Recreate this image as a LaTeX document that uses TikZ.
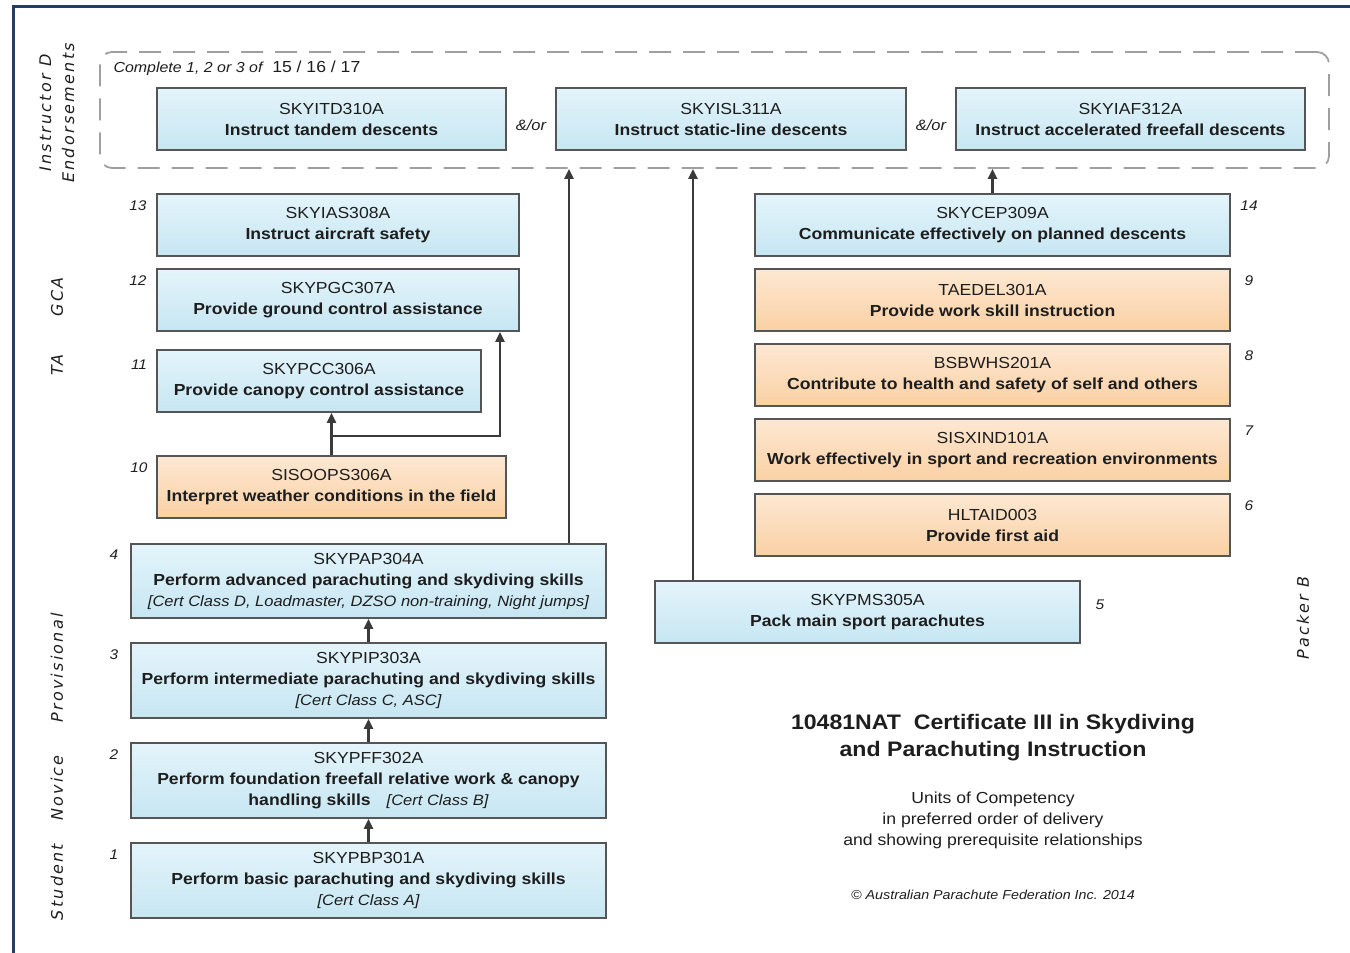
\documentclass[tikz,border=0pt]{standalone}
\usepackage{fontspec}
\setmainfont{Liberation Sans}[FakeStretch=1.1]
\newfontfamily\sidefont{DejaVu Sans}[LetterSpace=14]
\usetikzlibrary{arrows.meta, calc, positioning}

\definecolor{blueT}{HTML}{E4F4FB}
\definecolor{blueB}{HTML}{C6E6F2}
\definecolor{orangeT}{HTML}{FDE8D2}
\definecolor{orangeB}{HTML}{FAD0A4}
\definecolor{boxline}{HTML}{555555}
\definecolor{linegray}{HTML}{3A3A3A}
\definecolor{textdark}{HTML}{1E1E1E}
\definecolor{framecol}{HTML}{25405F}

\newcommand{\certnote}[1]{{\itshape\fontsize{15}{21}\selectfont #1}}

\begin{document}
\begin{tikzpicture}[
	x=1pt, y=-1pt,
	unitbox/.style={draw=boxline, line width=1.8pt, rectangle, align=center, inner sep=0pt, text=textdark, font=\fontsize{16}{21}\selectfont},
	bluebox/.style={unitbox, top color=blueT, bottom color=blueB},
	orangebox/.style={unitbox, top color=orangeT, bottom color=orangeB},
	arrow/.style={-{Triangle[length=10pt, width=9pt]}, line width=2.2pt, draw=linegray},
	num/.style={font=\fontsize{14}{14}\selectfont\itshape, text=textdark},
	side/.style={rotate=90, align=center, text=textdark, font=\sidefont\itshape\fontsize{16}{23}\selectfont},
	andor/.style={font=\fontsize{15}{15}\selectfont\itshape, text=textdark}
	]
	\useasboundingbox (0,0) rectangle (1350,953);
	% Frame
	\draw[framecol, line width=3pt] (1350,6) -- (13,6) -- (13,953);
	
	% Endorsements
	\node[draw=gray!75, line width=1.8pt, dash pattern=on 22pt off 12pt, rounded corners=12pt, minimum width=1229pt, minimum height=116pt, inner sep=0pt] (endorse) at (714.5,110) {};
	\node[anchor=west, text=textdark, font=\fontsize{16}{16}\selectfont] (choose) at (110,68) {{\itshape\fontsize{14.5}{14}\selectfont Complete 1, 2 or 3 of}\ \ 15 / 16 / 17};
	\node[bluebox, minimum width=349pt, minimum height=62pt] (itd) at (331.5,119) {SKYITD310A\\\textbf{Instruct tandem descents}};
	\node[bluebox, minimum width=350pt, minimum height=62pt] (isl) at (731,119) {SKYISL311A\\\textbf{Instruct static-line descents}};
	\node[bluebox, minimum width=349pt, minimum height=62pt] (iaf) at (1130.5,119) {SKYIAF312A\\\textbf{Instruct accelerated freefall descents}};
	\node[andor] (or1) at (531,125) {\&/or};
	\node[andor] (or2) at (931,125) {\&/or};
	
	% Left column
	\node[bluebox, minimum width=362pt, minimum height=62pt] (ias) at (338,225) {SKYIAS308A\\\textbf{Instruct aircraft safety}};
	\node[bluebox, minimum width=362pt, minimum height=62pt] (pgc) at (338,300) {SKYPGC307A\\\textbf{Provide ground control assistance}};
	\node[bluebox, minimum width=324pt, minimum height=62pt] (pcc) at (319,381) {SKYPCC306A\\\textbf{Provide canopy control assistance}};
	\node[orangebox, minimum width=349pt, minimum height=62pt] (sis) at (331.5,487) {SISOOPS306A\\\textbf{Interpret weather conditions in the field}};
	\node[bluebox, minimum width=475pt, minimum height=74pt] (pap) at (368.5,581) {SKYPAP304A\\\textbf{Perform advanced parachuting and skydiving skills}\\\certnote{[Cert Class D, Loadmaster, DZSO non-training, Night jumps]}};
	\node[bluebox, minimum width=475pt, minimum height=75pt] (pip) at (368.5,680.5) {SKYPIP303A\\\textbf{Perform intermediate parachuting and skydiving skills}\\\certnote{[Cert Class C, ASC]}};
	\node[bluebox, minimum width=475pt, minimum height=75pt] (pff) at (368.5,780.5) {SKYPFF302A\\\textbf{Perform foundation freefall relative work \& canopy}\\\textbf{handling skills}\quad\certnote{[Cert Class B]}};
	\node[bluebox, minimum width=475pt, minimum height=75pt] (pbp) at (368.5,880.5) {SKYPBP301A\\\textbf{Perform basic parachuting and skydiving skills}\\\certnote{[Cert Class A]}};
	
	% Right column
	\node[bluebox, minimum width=475pt, minimum height=62pt] (cep) at (992.5,225) {SKYCEP309A\\\textbf{Communicate effectively on planned descents}};
	\node[orangebox, minimum width=475pt, minimum height=62pt] (tae) at (992.5,300) {TAEDEL301A\\\textbf{Provide work skill instruction}};
	\node[orangebox, minimum width=475pt, minimum height=62pt] (bsb) at (992.5,375) {BSBWHS201A\\\textbf{Contribute to health and safety of self and others}};
	\node[orangebox, minimum width=475pt, minimum height=62pt] (sisx) at (992.5,450) {SISXIND101A\\\textbf{Work effectively in sport and recreation environments}};
	\node[orangebox, minimum width=475pt, minimum height=62pt] (hlt) at (992.5,525) {HLTAID003\\\textbf{Provide first aid}};
	\node[bluebox, minimum width=425pt, minimum height=62pt] (pms) at (867.5,612) {SKYPMS305A\\\textbf{Pack main sport parachutes}};
	
	% Order numbers
	\node[num] (n13) at (138,206) {13};
	\node[num] (n12) at (138,281) {12};
	\node[num] (n11) at (139,365) {11};
	\node[num] (n10) at (139,468) {10};
	\node[num] (n4) at (114,555) {4};
	\node[num] (n3) at (114,655) {3};
	\node[num] (n2) at (114,755) {2};
	\node[num] (n1) at (114,855) {1};
	\node[num] (n14) at (1249,206) {14};
	\node[num] (n9) at (1249,281) {9};
	\node[num] (n8) at (1249,356) {8};
	\node[num] (n7) at (1249,431) {7};
	\node[num] (n6) at (1249,506) {6};
	\node[num] (n5) at (1100,605) {5};
	
	% Side labels
	\node[side] (lblinst) at (57,113) {Instructor D\\Endorsements};
	\node[side] (lblgca) at (57,297) {GCA};
	\node[side] (lblta) at (57,365) {TA};
	\node[side] (lblprov) at (57,668) {Provisional};
	\node[side] (lblnov) at (57,788) {Novice};
	\node[side] (lblstud) at (57,882) {Student};
	\node[side] (lblpack) at (1303,618) {Packer B};
	
	% Title
	\node[align=center, text=textdark, font=\fontsize{21}{27}\selectfont\bfseries] (title) at (993,738) {10481NAT\ \ Certificate III in Skydiving\\and Parachuting Instruction};
	\node[align=center, text=textdark, font=\fontsize{16}{21}\selectfont] (subtitle) at (993,820) {Units of Competency\\in preferred order of delivery\\and showing prerequisite relationships};
	\node[text=textdark, font=\fontsize{13}{13}\selectfont\itshape] (copy) at (993,895) {\textcopyright\ Australian Parachute Federation Inc. 2014};
	
	% Prerequisite arrows
	\draw[arrow] (pbp.north) -- (pff.south);
	\draw[arrow] (pff.north) -- (pip.south);
	\draw[arrow] (pip.north) -- (pap.south);
	\draw[arrow] ([xshift=200.5pt]pap.north) -- ([xshift=200.5pt]pap.north |- endorse.south);
	\draw[arrow] ([xshift=-174.5pt]pms.north) -- ([xshift=-174.5pt]pms.north |- endorse.south);
	\draw[arrow] (cep.north) -- (cep.north |- endorse.south);
	\coordinate (split) at ($(sis.north)+(0,-19)$);
	\draw[arrow] (sis.north) -- (sis.north |- pcc.south);
	\draw[arrow] (split) -| ([xshift=162pt]pgc.south);
\end{tikzpicture}
\end{document}
